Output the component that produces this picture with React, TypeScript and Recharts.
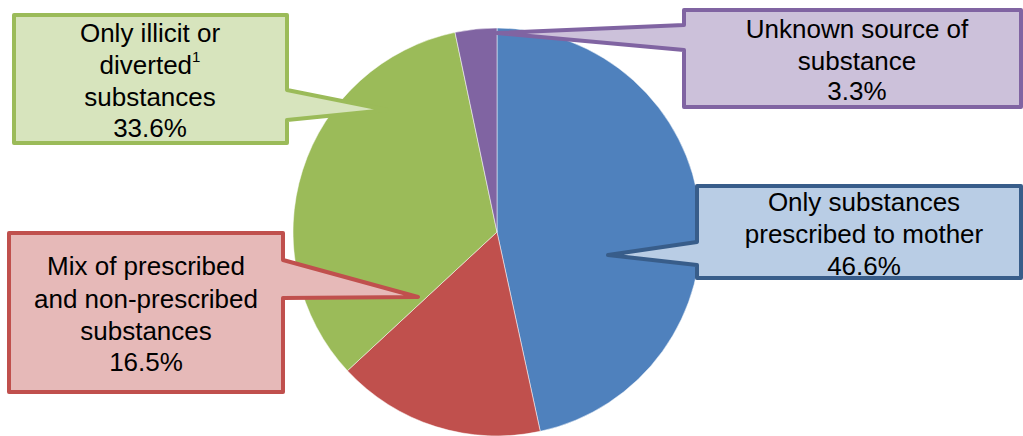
import React from 'react';
import { PieChart, Pie, Cell } from 'recharts';

// Slices in clockwise order starting from 12 o'clock
const sources = [
  'Only substances prescribed to mother',
  'Mix of prescribed and non-prescribed substances',
  'Only illicit or diverted substances',
  'Unknown source of substance',
];
const shares = [46.6, 16.5, 33.6, 3.3];
const sliceColors = ['#4F81BD', '#C0504D', '#9BBB59', '#8064A2'];
const boxFills = ['#B9CDE5', '#E6B9B8', '#D7E4BD', '#CCC1DA'];
const boxStrokes = ['#385D8A', '#C0504D', '#9BBB59', '#8064A2'];

// wrapped label text (superscript marker "^1" handled in render)
const labelLines = [
  ['Only substances', 'prescribed to mother'],
  ['Mix of prescribed', 'and non-prescribed', 'substances'],
  ['Only illicit or', 'diverted^1', 'substances'],
  ['Unknown source of', 'substance'],
];

const data = sources.map((name, i) => ({ name, value: shares[i] }));

// callout box layout: rectangle, side of the pointer, pointer base (y range) and tip
const callouts = [
  { x0: 697, y0: 186, x1: 1021, y1: 278, side: 'left', pa: 242, pb: 265, tip: [608, 255], cx: 864, lineY: [202, 234, 266] },
  { x0: 9, y0: 233, x1: 283, y1: 392, side: 'right', pa: 260, pb: 298, tip: [418, 297], cx: 146, lineY: [266, 299, 331, 362] },
  { x0: 14, y0: 15, x1: 287, y1: 143, side: 'right', pa: 90, pb: 120, tip: [387, 110], cx: 150, lineY: [33, 65, 97, 128] },
  { x0: 684, y0: 10, x1: 1021, y1: 107, side: 'left', pa: 25, pb: 50, tip: [497, 33], cx: 857, lineY: [29, 61, 91] },
];

function calloutPath(c: any) {
  const [tx, ty] = c.tip;
  if (c.side === 'right') {
    return `M${c.x0},${c.y0} L${c.x1},${c.y0} L${c.x1},${c.pa} L${tx},${ty} L${c.x1},${c.pb} L${c.x1},${c.y1} L${c.x0},${c.y1} Z`;
  }
  return `M${c.x0},${c.y0} L${c.x1},${c.y0} L${c.x1},${c.y1} L${c.x0},${c.y1} L${c.x0},${c.pb} L${tx},${ty} L${c.x0},${c.pa} Z`;
}

function renderCallout(props: any) {
  const i = props.index;
  const c = callouts[i];
  const lines = [...labelLines[i], `${shares[i].toFixed(1)}%`];
  return (
    <g key={`callout-${i}`}>
      <path
        d={calloutPath(c)}
        fill={boxFills[i]}
        stroke={boxStrokes[i]}
        strokeWidth={4}
        strokeLinejoin="round"
      />
      {lines.map((line, j) => {
        const sup = line.endsWith('^1');
        const body = sup ? line.slice(0, -2) : line;
        return (
          <text
            key={j}
            x={c.cx}
            y={c.lineY[j]}
            textAnchor="middle"
            dominantBaseline="central"
            fontFamily="Liberation Sans, Arial, sans-serif"
            fontSize={26}
            fill="#000"
          >
            {body}
            {sup && (
              <tspan fontSize={15} dy={-9}>
                1
              </tspan>
            )}
          </text>
        );
      })}
    </g>
  );
}

export default function App() {
  return (
    <div
      style={{
        position: 'absolute',
        left: 0,
        top: 0,
        width: 1023,
        height: 436,
        background: '#fff',
      }}
    >
      <PieChart width={1023} height={436} margin={{ top: 0, right: 0, bottom: 0, left: 0 }}>
        <Pie
          data={data}
          dataKey="value"
          nameKey="name"
          cx={497}
          cy={232}
          outerRadius={204}
          startAngle={90}
          endAngle={-270}
          stroke="#fff"
          strokeWidth={0.5}
          labelLine={false}
          label={renderCallout}
          isAnimationActive={false}
        >
          {data.map((d, i) => (
            <Cell key={`cell-${i}`} fill={sliceColors[i]} />
          ))}
        </Pie>
      </PieChart>
    </div>
  );
}
